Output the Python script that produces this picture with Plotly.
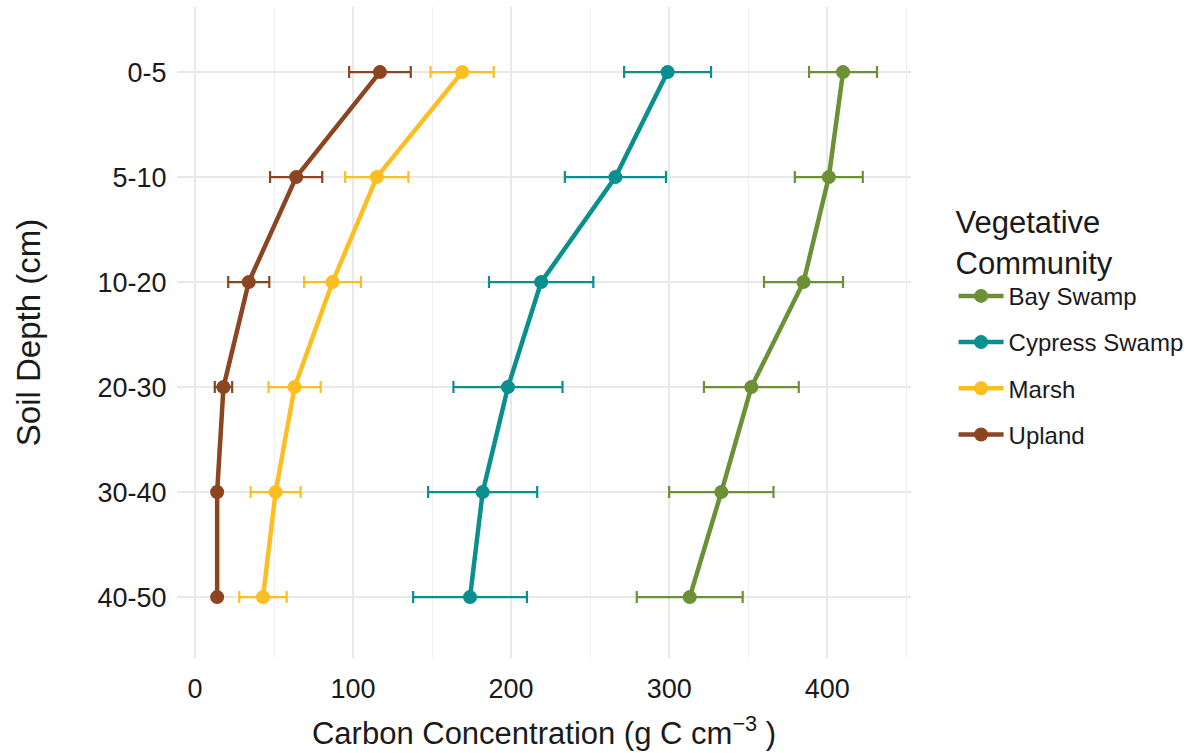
import plotly.graph_objects as go

# Soil depth intervals (cm), top to bottom
depths = ["0-5", "5-10", "10-20", "20-30", "30-40", "40-50"]

# Mean carbon concentration per community and its standard error
bay_swamp = [410, 401, 385, 352, 333, 313]
bay_swamp_se = [21.5, 21.5, 25, 30, 33, 33.5]

cypress_swamp = [299, 266, 219, 198, 182, 174]
cypress_swamp_se = [27.5, 32, 33, 34.5, 34.5, 36]

marsh = [169, 115, 87, 63, 51, 43]
marsh_se = [20, 20, 18, 16.5, 15.8, 15]

upland = [117, 64, 34, 18, 14, 14]
upland_se = [19.5, 16.5, 13, 5.5, 2, 1.5]

communities = ["Bay Swamp", "Cypress Swamp", "Marsh", "Upland"]
values = [bay_swamp, cypress_swamp, marsh, upland]
errors = [bay_swamp_se, cypress_swamp_se, marsh_se, upland_se]
colors = ["#6B9036", "#0A8F8F", "#FDBE22", "#8B4520"]

FONT = "Liberation Sans, Arial, sans-serif"

fig = go.Figure()
for name, vals, se, col in zip(communities, values, errors, colors):
    fig.add_trace(go.Scatter(
        x=vals, y=depths, name=name, legendgroup=name,
        mode="lines+markers",
        line=dict(color=col, width=4.5),
        marker=dict(color=col, size=14),
        error_x=dict(type="data", array=se, visible=True,
                     color=col, thickness=2.2, width=6),
    ))

grid = "#E8E8E8"
fig.update_layout(
    width=1187, height=753,
    margin=dict(l=177, r=276, t=7, b=95, autoexpand=False),
    paper_bgcolor="white", plot_bgcolor="white",
    font=dict(family=FONT, color="#1A1A1A"),
    xaxis=dict(
        range=[-11.4, 453], tickvals=[0, 100, 200, 300, 400],
        showgrid=True, gridcolor=grid, gridwidth=1.6,
        minor=dict(tickvals=[50, 150, 250, 350, 450], showgrid=True,
                   gridcolor="#EFEFEF", gridwidth=1.2),
        zeroline=False, showline=False,
        ticks="outside", ticklen=7, tickcolor="rgba(0,0,0,0)",
        tickfont=dict(size=27, color="#1A1A1A"),
        title=dict(text="Carbon Concentration (g C cm<sup>\u22123</sup> )",
                   font=dict(size=31), standoff=18),
    ),
    yaxis=dict(
        type="category", categoryorder="array", categoryarray=depths,
        range=[5.58, -0.62],
        showgrid=True, gridcolor=grid, gridwidth=1.6,
        zeroline=False, showline=False,
        ticks="outside", ticklen=4, tickcolor="rgba(0,0,0,0)",
        tickfont=dict(size=27, color="#1A1A1A"),
        title=dict(text="Soil Depth (cm)", font=dict(size=33), standoff=46),
    ),
    legend=dict(
        title=dict(text="Vegetative<br>Community", font=dict(size=31), side="top"),
        font=dict(size=24),
        x=1.058, xanchor="left", y=0.714, yanchor="top",
        traceorder="grouped", tracegroupgap=12,
        itemwidth=45,
        bgcolor="rgba(0,0,0,0)",
    ),
    showlegend=True,
)

fig.write_html("out.html")
